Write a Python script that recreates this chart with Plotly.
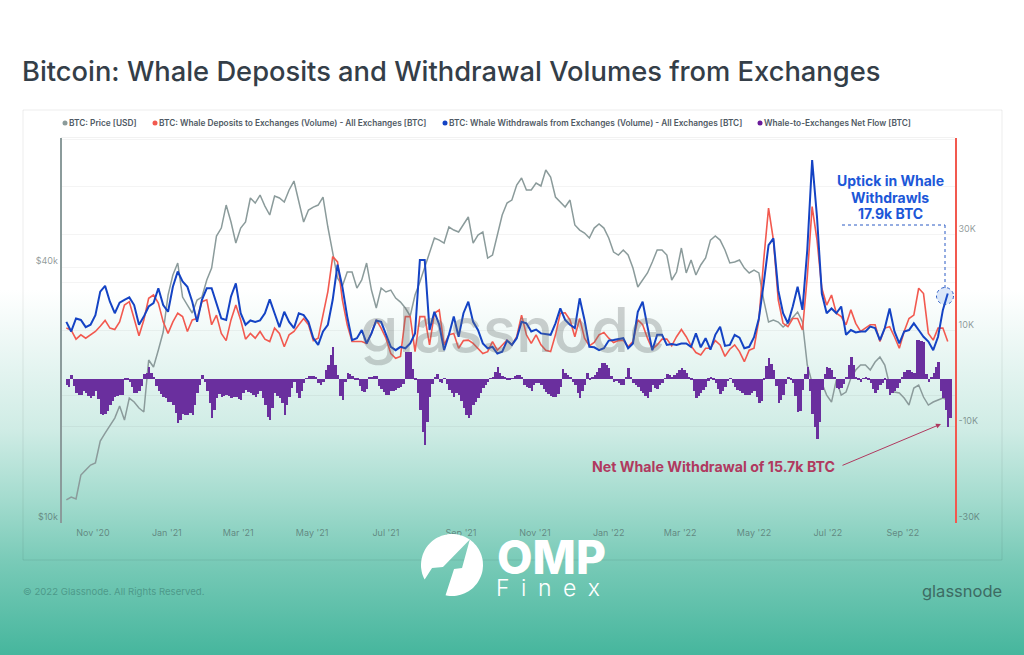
import numpy as np
import pandas as pd
import plotly.graph_objects as go

W, H = 1024, 655

# BTC price [USD], one reading every 4 days from 2020-10-10
btc_price = [
    11330, 11510, 11390, 12970, 13330, 13690, 13840, 15590, 16280, 17000,
    17660, 18850, 17470, 19680, 19260, 18650, 18250, 24180, 23290, 25530,
    28150, 34390, 38330, 40910, 34020, 32580, 31200, 33470, 34020, 37310,
    39810, 47350, 49440, 56000, 51090, 45590, 49440, 51090, 58180, 56620,
    59130, 55700, 53060, 58820, 58180, 56920, 60760, 63790, 57550, 51090,
    54510, 55400, 56000, 58490, 49720, 43410, 37710, 36110, 38960, 38960,
    35720, 37310, 40910, 35330, 32060, 35720, 34960, 35330, 33840, 33110,
    32060, 30700, 34390, 36900, 39810, 43410, 46840, 46330, 45590, 49720,
    48910, 48400, 50270, 52490, 45590, 47600, 48400, 42030, 42720, 47600,
    53060, 56620, 57550, 62410, 64840, 60760, 60760, 63100, 62090, 67720,
    65200, 58490, 56920, 55400, 57550, 50270, 48910, 48130, 46840, 49440,
    50530, 49440, 46840, 43410, 42720, 43900, 42720, 39810, 35920, 37310,
    38760, 41130, 43900, 43900, 42720, 37310, 38960, 44370, 38760, 41580,
    38330, 40470, 42030, 46330, 47350, 46330, 43900, 40910, 41130, 41580,
    39810, 38760, 39380, 38760, 33470, 29710, 30030, 29710, 28920, 29550,
    30370, 31370, 29710, 23540, 21350, 21700, 21350, 20000, 19260, 21700,
    20000, 20330, 21940, 22910, 23540, 23540, 22910, 23920, 24580, 23540,
    21120, 20330, 20220, 19680, 18950, 20780, 21120, 19790, 18950, 19260,
    19470, 19680, 19470,
]

# whale deposits to exchanges, thousand BTC
whale_deposits = [
    10.6, 10.2, 8.3, 9.2, 8.5, 9.2, 9.9, 11.0, 12.2, 10.6,
    10.3, 11.9, 15.4, 16.1, 12.6, 9.0, 12.3, 16.8, 17.5, 15.8,
    11.9, 9.5, 11.9, 13.7, 13.0, 9.9, 12.3, 12.6, 16.1, 16.5,
    11.3, 13.3, 9.5, 8.0, 12.3, 15.4, 12.3, 8.3, 9.5, 8.5,
    9.9, 8.3, 7.8, 10.6, 9.5, 6.7, 9.2,
    9.9, 11.3, 12.6, 11.3, 8.0, 8.5, 13.0, 18.2, 25.5, 24.4,
    16.5, 11.3, 7.8, 7.8, 7.8, 7.4, 9.5, 12.3, 10.6, 8.5,
    5.3, 4.3, 4.7, 13.0, 13.0, 5.7, 13.0, 13.0, 7.1, 13.7,
    14.4, 7.1, 9.2, 9.5, 6.4, 8.0, 8.1, 7.4, 6.4, 5.3,
    5.7, 7.8, 6.0, 7.1, 8.1, 7.1,
    8.8, 13.3, 9.2, 7.4, 9.2, 7.1, 6.0, 5.7, 9.2, 13.7,
    13.8, 12.3, 8.8, 12.6, 8.5, 6.9, 7.6, 9.2, 9.7, 8.5,
    7.6, 8.0, 8.1, 6.7, 7.8, 12.3, 11.3, 8.5, 6.2, 7.1,
    8.3, 8.3, 6.9, 8.8, 10.3, 8.8, 6.9, 5.5, 5.0, 6.4,
    6.4, 8.0, 7.1, 4.7, 6.2, 7.1,
    5.7, 3.6, 6.0, 6.4, 12.3, 24.8, 35.6, 29.0, 16.5, 11.6,
    10.9, 12.6, 12.6, 10.2, 21.3, 35.9, 29.0, 18.9, 15.4, 17.5,
    13.7, 13.0, 11.3, 14.4, 11.6, 9.9, 10.6, 11.3, 11.3, 7.8,
    10.6, 10.9, 8.8, 6.4, 9.9, 12.6, 13.3, 18.9, 17.8, 9.5,
    8.1, 10.6, 10.6, 7.8,
]

# whale withdrawals from exchanges, thousand BTC
whale_withdrawals = [
    11.9, 9.9, 12.6, 12.3, 10.8, 11.3, 13.3, 18.2, 19.4, 16.1,
    13.7, 15.9, 16.5, 17.0, 15.4, 11.3, 13.0, 15.1, 15.8, 18.9,
    15.4, 14.0, 19.2, 22.4, 20.3, 19.2, 16.1, 11.9, 16.5, 18.9,
    18.9, 15.8, 12.6, 12.3, 17.2, 19.9, 13.7, 11.3, 12.2, 11.9,
    12.2, 13.7, 16.6, 13.7, 10.8, 14.0, 11.9,
    10.6, 13.7, 13.3, 11.9, 8.5, 7.1, 9.9, 11.3, 16.5, 23.8,
    19.2, 13.0, 8.1, 8.5, 10.2, 7.4, 9.5, 12.2, 11.9, 9.5,
    6.7, 6.0, 6.7, 6.4, 7.4, 9.5, 24.8, 24.8, 10.2, 14.0,
    11.3, 6.0, 9.2, 13.0, 8.8, 13.7, 16.1, 11.9, 10.2, 7.4,
    6.4, 6.7, 5.3, 5.7, 8.0, 7.1,
    8.5, 11.9, 11.6, 9.9, 10.3, 9.5, 9.4, 9.2, 11.6, 14.7,
    12.3, 11.3, 10.6, 16.8, 12.3, 6.7, 6.6, 6.0, 6.4, 8.0,
    8.1, 8.3, 8.5, 6.4, 7.4, 14.0, 16.1, 10.9, 6.0, 9.2,
    9.2, 7.1, 7.3, 7.1, 7.4, 7.4, 6.7, 9.5, 6.6, 8.5,
    6.1, 9.2, 10.9, 6.9, 7.1, 9.2,
    8.6, 6.4, 6.7, 8.7, 12.6, 19.9, 27.9, 29.3, 18.5, 13.7,
    11.6, 15.1, 19.2, 14.4, 26.9, 45.6, 33.8, 17.8, 13.7, 14.7,
    13.7, 15.1, 9.2, 10.2, 9.7, 9.9, 9.9, 10.9, 10.6, 8.1,
    10.6, 14.7, 9.9, 7.4, 9.9, 10.2, 11.6, 10.2, 8.8, 7.8,
    6.0, 8.8, 14.4, 17.8,
]

# whale-to-exchanges net flow, thousand BTC, one bar every 2 days
net_flow = [
    -1.3, -1.6, 0.8, -1.5, -3.0, -3.4, -3.3, -2.6, -3.0, -3.5,
    -4.0, -3.6, -2.6, -4.2, -7.2, -7.4, -7.2, -6.6, -5.4, -4.6,
    -3.7, -3.6, -3.3, -3.4, -0.2, -0.3, -0.6, -1.6, -3.0, -2.9,
    -2.6, -1.5, 1.0, 1.3, 2.6, 1.3, 0.5, -1.4, -2.6, -3.2,
    -3.7, -4.0, -4.7, -4.8, -5.4, -7.0, -9.2, -8.6, -7.2, -7.4,
    -7.5, -7.0, -7.5, -5.5, -3.0, -1.2, 0.8, -0.6, -2.6, -5.0,
    -8.2, -6.5, -4.0, -3.2, -3.7, -3.5, -3.3, -3.6, -4.0, -3.8,
    -3.7, -4.1, -4.4, -3.0, -2.3, -2.8, -3.0, -3.3, -3.7, -3.1,
    -2.6, -4.0, -5.4, -8.0, -8.5, -6.0, -3.0, -3.6, -4.0, -5.0,
    -7.5, -5.5, -3.7,
    -1.8, -0.6, -3.0, -4.0, -2.4, -0.9, 0.2, 0.6, 0.7, 0.6,
    0.4, -0.9, -1.2, -0.6, 1.8, 2.9, 5.0, 6.7, 3.0, 0.8,
    -3.5, -4.4, -0.6, 1.3, 1.0, 0.6, -0.1, -0.3, -1.5, -2.6,
    -2.8, -2.1, 0.3, 0.5, 0.7, 0.6, -1.5, -2.1, -2.8, -3.3,
    -3.3, -2.6, -2.5, -2.3, -1.9, -1.6, -1.1, 5.7, 5.7, 5.7,
    2.0, -0.2, -3.0, -6.5, -11.0, -13.8, -9.0, -3.7, -1.0, 0.5,
    1.0, -0.6, -0.8, 0.1, -1.0, -2.3, -3.0, -3.7, -3.0, -3.3,
    -4.5, -6.1, -7.5, -8.2, -7.5, -5.4, -4.8, -4.0, -3.0, -1.9,
    -1.2, -0.6, 0.2, 0.5, 1.4, 2.4, 1.2, 0.6, 0.4, -0.3,
    -0.2, 0.1,
    0.6, 0.8, 0.9, 0.5, -1.2, -1.6, -1.9, -2.4, -1.3, -0.9,
    -0.8, -1.3, -2.0, -2.8, -3.2, -3.5, -3.8, -3.7, -3.2, -1.6,
    2.0, 1.3, 0.8, 0.5, -0.6, -1.3, -3.0, -4.0, -2.5, -1.3,
    1.2, -0.1, 0.3, 0.8, 1.5, 2.2, 3.3, 3.3, 3.0, 2.2,
    0.6, -0.6, -0.5, -0.9, -1.2, -1.3, 0.3, 2.2, 0.5, -0.9,
    -1.3, -1.6, -2.6, -3.0, -3.6, -4.0, -2.8, -1.3, -1.9, -2.1,
    -1.2, -0.9, 0.2, 1.0, 0.8, 0.3, 0.9, 1.2, 1.8, 2.2,
    1.8, 1.2, 0.4, -0.1, -2.5, -4.0, -3.5, -3.0, -2.2, -1.6,
    -0.4, 0.5, -0.3, -0.9, -2.0, -3.1, -2.6, -1.6, -0.5, 0.1,
    -0.8, -1.6,
    -2.2, -2.6, -2.9, -3.3, -3.3, -3.3, -2.9, -2.6, -3.8, -5.1,
    -4.6, -0.2, 2.8, 4.3, 3.2, 1.9, -1.5, -5.1, -4.3, -3.3,
    -1.0, 0.5, -0.3, -0.9, -3.5, -6.8, -6.6, -2.3, 1.0, 2.6,
    -2.5, -7.3, -10.0, -12.4, -9.0, -2.3, 1.0, 2.6, 2.2, 1.9,
    0.5, -1.9, -2.0, -1.9, -1.0, 0.5, 3.0, 4.5, 3.0, 0.5,
    -0.2, -0.6, 0.2, 0.5, -0.3, -0.9, -2.0, -3.0, -2.2, -1.3,
    -0.8, -0.2, -2.0, -3.3, -3.0, -2.6, -1.8, -0.9, 0.5, 1.5,
    1.8, 1.9, 1.5, 1.2, 8.1, 8.1, 8.0, 7.8, 1.0, -0.6,
    0.4, 1.2, 2.4, 3.6, -2.5, -4.0, -6.5, -9.9, -8.2,
]
assert len(btc_price) == len(whale_deposits) == len(whale_withdrawals)

month_ticks = ['2020-11-01', '2021-01-01', '2021-03-01', '2021-05-01', '2021-07-01', '2021-09-01',
               '2021-11-01', '2022-01-01', '2022-03-01', '2022-05-01', '2022-07-01', '2022-09-01']
month_labels = ["Nov '20", "Jan '21", "Mar '21", "May '21", "Jul '21", "Sep '21",
                "Nov '21", "Jan '22", "Mar '22", "May '22", "Jul '22", "Sep '22"]
price_ticks = [10000, 20000, 40000, 80000]
price_labels = ['$10k', '', '$40k', '']
flow_ticks = [-30, -10, 10, 20, 30, 40]
flow_labels = ['-30K', '-10K', '10K', '', '30K', '']

legend_names = ['BTC: Price [USD]', 'BTC: Whale Deposits to Exchanges (Volume) - All Exchanges [BTC]',
                'BTC: Whale Withdrawals from Exchanges (Volume) - All Exchanges [BTC]',
                'Whale-to-Exchanges Net Flow [BTC]']

GREY, RED, BLUE, PURPLE = '#8b9b9b', '#f2594f', '#1443c4', '#6a2f9e'
legend_colors = [GREY, RED, BLUE, '#6a1b9a']
legend_starts = [69, 159, 449, 764]

dates = pd.date_range('2020-10-10', periods=len(btc_price), freq='4D')
net_dates = pd.date_range('2020-10-10', periods=len(net_flow), freq='2D')


def px(x):
    return x / W


def py(y):
    return 1 - y / H


fig = go.Figure()
fig.add_trace(go.Scatter(x=dates, y=btc_price, mode='lines', name=legend_names[0], yaxis='y',
                         line=dict(color=GREY, width=1.5)))
fig.add_trace(go.Bar(x=net_dates, y=net_flow, name=legend_names[3], yaxis='y2', marker=dict(color=PURPLE, line_width=0)))
fig.add_trace(go.Scatter(x=dates, y=whale_deposits, mode='lines', name=legend_names[1], yaxis='y2',
                         line=dict(color=RED, width=1.6)))
fig.add_trace(go.Scatter(x=dates, y=whale_withdrawals, mode='lines', name=legend_names[2], yaxis='y2',
                         line=dict(color=BLUE, width=2)))

tick_font = dict(family='Inter', size=9, color='rgba(70,85,85,0.6)')
grid = 'rgba(0,0,0,0.045)'

shapes = [
    # card around the chart
    dict(type='rect', xref='paper', yref='paper', x0=px(23), x1=px(1002), y0=py(560), y1=py(110),
         line=dict(color='rgba(0,0,0,0.07)', width=1)),
    dict(type='line', xref='paper', yref='paper', x0=px(61), x1=px(955), y0=py(137.5), y1=py(137.5),
         line=dict(color='rgba(0,0,0,0.05)', width=1)),
    # dotted leader to the last withdrawal value
    dict(type='line', xref='paper', yref='paper', x0=px(842), x1=px(945), y0=py(225), y1=py(225),
         line=dict(color='#2a5bc4', width=1, dash='dot')),
    dict(type='line', xref='paper', yref='paper', x0=px(945), x1=px(945), y0=py(225), y1=py(288),
         line=dict(color='#2a5bc4', width=1, dash='dot')),
    dict(type='circle', xref='paper', yref='paper', x0=px(936.5), x1=px(953.5), y0=py(304.5), y1=py(287.5),
         fillcolor='rgba(60,120,230,0.18)', line=dict(color='#2a5bc4', width=1, dash='dot')),
]
for start, color in zip(legend_starts, legend_colors):
    shapes.append(dict(type='circle', xref='paper', yref='paper', x0=px(start - 6.5), x1=px(start - 1.5),
                       y0=py(125.5), y1=py(120.5), fillcolor=color, line_width=0))

# logo mark: a disc split by a rising slash
cx, cy, r = 452, 565, 31
left_angles = np.radians(np.linspace(152, 305, 40))
right_angles = np.radians(np.linspace(-55, 102, 40))
left_pts = [(cx + r * np.cos(a), cy + r * np.sin(a)) for a in left_angles] + [(443, 567), (432, 568)]
right_pts = [(cx + r * np.cos(a), cy + r * np.sin(a)) for a in right_angles] + [(454, 569), (462, 568)]
for pts in (left_pts, right_pts):
    path = 'M ' + ' L '.join(f'{px(x):.4f},{py(y):.4f}' for x, y in pts) + ' Z'
    shapes.append(dict(type='path', xref='paper', yref='paper', path=path, fillcolor='white', line_width=0))


def note(x, y, text, size, color, anchor='left', weight=400, family='Inter'):
    return dict(xref='paper', yref='paper', x=px(x), y=py(y), text=text, showarrow=False, xanchor=anchor,
                yanchor='middle', font=dict(family=family, size=size, color=color, weight=weight))


annotations = [
    note(20, 72, 'Bitcoin: Whale Deposits and Withdrawal Volumes from Exchanges', 27.3, '#343e48', weight=500),
    note(513, 330, 'glassnode', 62, 'rgba(110,115,115,0.33)', 'center', 500),
    note(890, 180, 'Uptick in Whale', 14, '#1c57d8', 'center', 700),
    note(890, 197, 'Withdrawls', 14, '#1c57d8', 'center', 700),
    note(890, 214, '17.9k BTC', 14, '#1c57d8', 'center', 700),
    note(590, 466, 'Net Whale Withdrawal of 15.7k BTC', 14.2, '#b0395f', 'left', 700),
    dict(xref='paper', yref='paper', x=px(941), y=py(424), text='', showarrow=True, arrowhead=2, arrowsize=1,
         arrowwidth=1, arrowcolor='#b0395f', ax=-100, ay=42),
    note(21, 591, '© 2022 Glassnode. All Rights Reserved.', 9.6, 'rgba(50,110,100,0.5)'),
    note(1004, 591, 'glassnode', 16.5, '#3d6b63', 'right', 400),
    note(495, 557, 'OMP', 46, 'white', 'left', 800),
    note(494, 588, 'F\u2002i\u2002n\u2002e\u2002x', 23, 'white', 'left', 300),
]
for name, start in zip(legend_names, legend_starts):
    annotations.append(note(start - 2, 123, name, 8.3, '#4f5a64', weight=600))

fig.update_layout(
    width=W, height=H, margin=dict(l=0, r=0, t=0, b=0), autosize=False,
    paper_bgcolor='rgba(0,0,0,0)', plot_bgcolor='rgba(0,0,0,0)',
    showlegend=False, bargap=0, shapes=shapes, annotations=annotations,
    xaxis=dict(domain=[px(61.5), px(955)], range=['2020-10-06', '2022-10-14'], tickvals=month_ticks,
               ticktext=month_labels, showgrid=False, ticks='', tickfont=tick_font, zeroline=False,
               showline=False, ticklabelstandoff=3),
    yaxis=dict(domain=[py(523), py(138)], type='log', range=[4, 4.906], tickvals=price_ticks,
               ticktext=price_labels, gridcolor=grid, zeroline=False, tickfont=tick_font, ticks='',
               showline=True, linecolor=GREY, linewidth=1.5, ticklabelposition='outside top'),
    yaxis2=dict(overlaying='y', side='right', range=[-30, 50.2], tickvals=flow_ticks, ticktext=flow_labels,
                gridcolor=grid, zeroline=False, tickfont=tick_font, ticks='', showline=True, linecolor=RED,
                linewidth=1.5, ticklabelposition='outside top'),
)

page_style = ("document.body.style.margin='0';document.body.style.overflow='hidden';"
              "document.body.style.background='linear-gradient(180deg,#ffffff 290px,#cfece5 430px,"
              "#a5dccf 497px,#78cab7 563px,#46b69d 655px)';")
fig.write_html("out.html", post_script=page_style, config={'displayModeBar': False})
